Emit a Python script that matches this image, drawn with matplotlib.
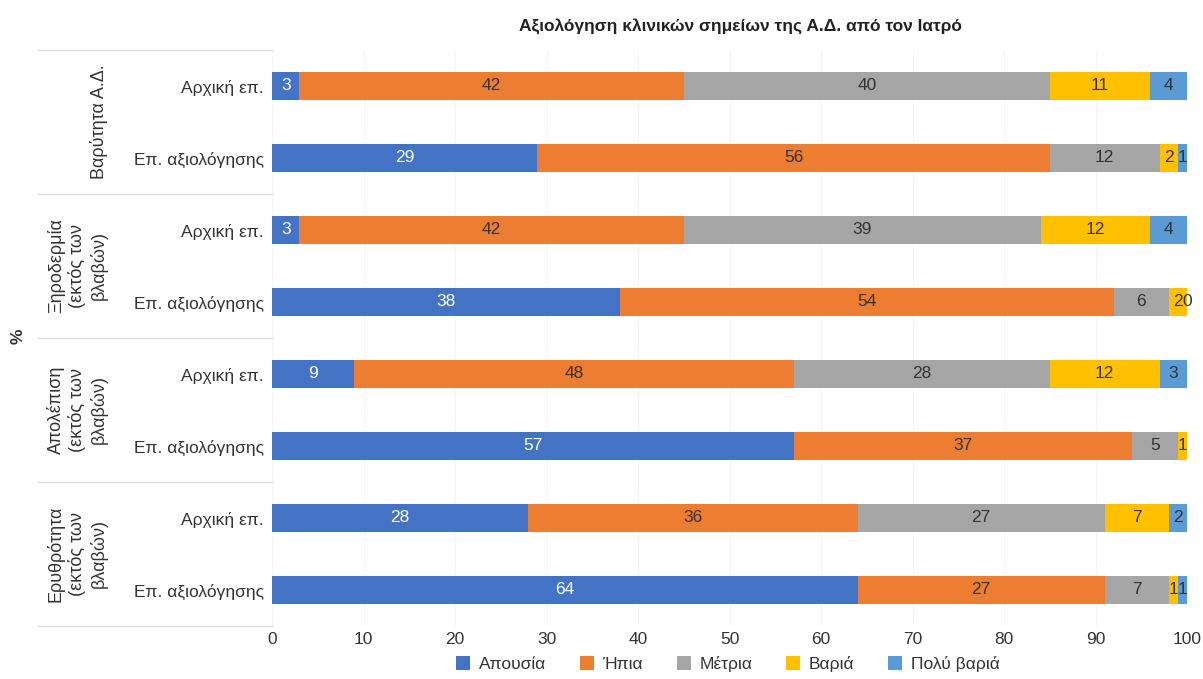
import matplotlib
matplotlib.use("Agg")
import matplotlib.pyplot as plt
from matplotlib import font_manager
import numpy as np

names = {f.name for f in font_manager.fontManager.ttflist}
FONT = ['Liberation Sans Narrow', 'DejaVu Sans'] if 'Liberation Sans Narrow' in names else ['Liberation Sans', 'DejaVu Sans']
plt.rcParams['font.family'] = FONT

title = "Αξιολόγηση κλινικών σημείων της Α.Δ. από τον Ιατρό"
groups = ["Βαρύτητα Α.Δ.", "Ξηροδερμία\n(εκτός των\nβλαβών)", "Απολέπιση\n(εκτός των\nβλαβών)", "Ερυθρότητα\n(εκτός των\nβλαβών)"]
row_labels = ["Αρχική επ.", "Επ. αξιολόγησης"] * 4
series = ["Απουσία", "Ήπια", "Μέτρια", "Βαριά", "Πολύ βαριά"]
colors = ["#4472C4", "#ED7D31", "#A5A5A5", "#FFC000", "#5B9BD5"]

apousia    = [3, 29, 3, 38, 9, 57, 28, 64]
ipia       = [42, 56, 42, 54, 48, 37, 36, 27]
metria     = [40, 12, 39, 6, 28, 5, 27, 7]
baria      = [11, 2, 12, 2, 12, 1, 7, 1]
poly_baria = [4, 1, 4, 0, 3, 0, 2, 1]
# value labels shown for "Πολύ βαριά" (hidden where the reference shows none)
poly_baria_shown = [True, True, True, True, True, False, True, True]

data = [apousia, ipia, metria, baria, poly_baria]
text_colors = ["white", "#333333", "#333333", "#333333", "#333333"]

fig = plt.figure(figsize=(12.03, 6.79), dpi=100)
ax = fig.add_axes([272/1203, 1-626/679, (1187-272)/1203, (626-50)/679])

y = np.arange(len(row_labels))
left = np.zeros(len(row_labels))
for si, (name, vals, col) in enumerate(zip(series, data, colors)):
    vals = np.array(vals, dtype=float)
    ax.barh(y, vals, left=left, height=0.39, color=col, label=name, zorder=3)
    for i, v in enumerate(vals):
        if si == 4 and not poly_baria_shown[i]:
            continue
        ax.text(left[i] + v/2, y[i], f"{int(v)}", ha='center', va='center',
                fontsize=12.5, color=text_colors[si], zorder=4)
    left += vals

ax.set_xlim(0, 100)
ax.set_ylim(7.5, -0.5)
ax.set_xticks(np.arange(0, 101, 10))
ax.set_yticks(y)
ax.set_yticklabels(row_labels, fontsize=12.5, color="#333333")
ax.tick_params(axis='x', labelsize=12.5, colors="#333333", length=0, pad=4)
ax.tick_params(axis='y', length=0, pad=6)
for s in ax.spines.values():
    s.set_visible(False)
ax.xaxis.grid(True, color="#f5f5f5", lw=0.8, zorder=0)
ax.set_axisbelow(True)

# group separators
trans = matplotlib.transforms.blended_transform_factory(fig.transFigure, ax.transData)
x0 = 38/1203
x1 = 272/1203
for yy in [-0.5, 1.5, 3.5, 5.5, 7.5]:
    fig.add_artist(plt.Line2D([x0, x1], [yy, yy], transform=trans, color="#dddddd", lw=1.0))

# group labels
for gi, g in enumerate(groups):
    ax.text(108/1203, 2*gi + 0.5, g, transform=trans, rotation=90, ha='right', va='center',
            multialignment='center', fontsize=13, color="#333333", linespacing=1.25)

fig.text(18/1203, 1-336/679, "%", rotation=90, ha='center', va='center', fontsize=12.5,
         fontweight='bold', color="#333333")

fig.text(740/1203, 1-27/679, title, ha='center', va='center', fontsize=12.5,
         fontweight='bold', color="#222222")

handles, labels = ax.get_legend_handles_labels()
fig.legend(handles, labels, loc='center', bbox_to_anchor=(728/1203, 1-664/679), ncol=5,
           frameon=False, fontsize=12.5, handlelength=0.8, handleheight=0.8,
           columnspacing=1.95, handletextpad=0.5, labelcolor="#333333")

fig.savefig("out.png", dpi=100, facecolor="white")
